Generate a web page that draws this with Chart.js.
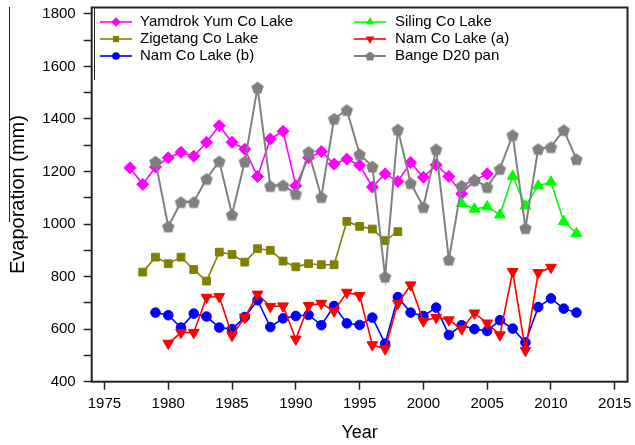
<!DOCTYPE html>
<html>
<head>
<meta charset="utf-8">
<script src="https://cdn.jsdelivr.net/npm/chart.js@4.4.1/dist/chart.umd.min.js"></script>
<style>
  html, body { margin: 0; padding: 0; background: #fff; }
  #wrap { width: 635px; height: 445px; position: relative; }
</style>
</head>
<body>
<div id="wrap"><canvas id="evapChart"></canvas></div>
<script>
// evaporation (mm) per year
const yamdrokYears = [1977, 1978, 1979, 1980, 1981, 1982, 1983, 1984, 1985, 1986, 1987, 1988, 1989, 1990, 1991,
  1992, 1993, 1994, 1995, 1996, 1997, 1998, 1999, 2000, 2001, 2002, 2003, 2004, 2005];
const yamdrokValues = [1214, 1151, 1217, 1252, 1273, 1258, 1311, 1374, 1311, 1285, 1181, 1324, 1353, 1146, 1252,
  1276, 1228, 1247, 1224, 1141, 1191, 1162, 1234, 1178, 1225, 1181, 1115, 1166, 1191];

const zigetangYears = [1978, 1979, 1980, 1981, 1982, 1983, 1984, 1985, 1986, 1987, 1988, 1989, 1990, 1991, 1992,
  1993, 1994, 1995, 1996, 1997, 1998];
const zigetangValues = [817, 874, 849, 874, 827, 783, 893, 884, 855, 906, 900, 859, 837, 849, 845,
  845, 1010, 991, 981, 937, 971];

const namCoBYears = [1979, 1980, 1981, 1982, 1983, 1984, 1985, 1986, 1987, 1988, 1989, 1990, 1991, 1992, 1993,
  1994, 1995, 1996, 1997, 1998, 1999, 2000, 2001, 2002, 2003, 2004, 2005, 2006, 2007, 2008, 2009, 2010, 2011, 2012];
const namCoBValues = [663, 653, 606, 659, 648, 606, 600, 646, 710, 608, 641, 650, 654, 615, 688,
  622, 616, 644, 545, 722, 663, 650, 682, 578, 615, 600, 593, 634, 602, 549, 684, 717, 678, 663];

const silingYears = [2003, 2004, 2005, 2006, 2007, 2008, 2009, 2010, 2011, 2012];
const silingValues = [1078, 1057, 1066, 1035, 1182, 1069, 1145, 1160, 1010, 964];

const namCoAYears = [1980, 1981, 1982, 1983, 1984, 1985, 1986, 1987, 1988, 1989, 1990, 1991, 1992, 1993, 1994,
  1995, 1996, 1997, 1998, 1999, 2000, 2001, 2002, 2003, 2004, 2005, 2006, 2007, 2008, 2009, 2010];
const namCoAValues = [546, 587, 587, 721, 724, 576, 645, 733, 686, 688, 562, 690, 698, 669, 740,
  728, 540, 525, 698, 768, 631, 644, 635, 601, 661, 623, 578, 819, 519, 815, 835];

const bangeYears = [1979, 1980, 1981, 1982, 1983, 1984, 1985, 1986, 1987, 1988, 1989, 1990, 1991, 1992, 1993,
  1994, 1995, 1996, 1997, 1998, 1999, 2000, 2001, 2002, 2003, 2004, 2005, 2006, 2007, 2008, 2009, 2010, 2011, 2012];
const bangeValues = [1238, 991, 1084, 1084, 1172, 1239, 1036, 1238, 1520, 1145, 1148, 1115, 1275, 1103, 1401,
  1434, 1266, 1219, 800, 1360, 1156, 1065, 1285, 865, 1146, 1168, 1141, 1210, 1339, 985, 1286, 1293, 1358, 1247];

const xTicks = [1975, 1980, 1985, 1990, 1995, 2000, 2005, 2010, 2015];
const yTicks = [400, 500, 600, 700, 800, 900, 1000, 1100, 1200, 1300, 1400, 1500, 1600, 1700, 1800];
const yLabelled = [400, 600, 800, 1000, 1200, 1400, 1600, 1800];

const FONT = '"Liberation Sans", Arial, Helvetica, sans-serif';

function pairs(years, vals) {
    return years.map((x, i) => ({ x: x, y: vals[i] }));
}

// Chart.js has no pentagon, so draw one on a small canvas
function pentagonMarker(r, color) {
    const size = Math.ceil(r * 2 + 2);
    const c = document.createElement('canvas');
    c.width = size;
    c.height = size;
    const g = c.getContext('2d');
    const cx = size / 2, cy = size / 2 + r * 0.1;
    g.beginPath();
    for (let i = 0; i < 5; i++) {
        const a = -Math.PI / 2 + i * 2 * Math.PI / 5;
        const px = cx + r * Math.cos(a), py = cy + r * Math.sin(a);
        if (i) g.lineTo(px, py); else g.moveTo(px, py);
    }
    g.closePath();
    g.fillStyle = color;
    g.fill();
    return c;
}

const bangePoint = pentagonMarker(6.5, '#808080');
const bangeLegendPoint = pentagonMarker(5, '#808080');

function line(label, years, vals, color, style, radius, extra) {
    return Object.assign({
        label: label,
        data: pairs(years, vals),
        borderColor: color,
        backgroundColor: color,
        borderWidth: 1.6,
        pointStyle: style,
        pointRadius: radius,
        pointHoverRadius: radius,
        pointBorderWidth: 1,
        pointBorderColor: color,
        pointBackgroundColor: color,
        tension: 0
    }, extra || {});
}

const datasets = [
    line('Yamdrok Yum Co Lake', yamdrokYears, yamdrokValues, '#FF00FF', 'rectRot', 6, { order: 6 }),
    line('Zigetang Co Lake', zigetangYears, zigetangValues, '#808000', 'rect', 5.5, { order: 5 }),
    line('Nam Co Lake (b)', namCoBYears, namCoBValues, '#0000FF', 'circle', 4.8, { order: 4 }),
    line('Siling Co Lake', silingYears, silingValues, '#00FF00', 'triangle', 6.2, { order: 3 }),
    line('Nam Co Lake (a)', namCoAYears, namCoAValues, '#FF0000', 'triangle', 6.2, { order: 2, pointRotation: 180 }),
    line('Bange D20 pan', bangeYears, bangeValues, '#808080', bangePoint, 6.5, { order: 1, borderWidth: 2 })
];

// legend drawn by hand: two columns, three rows, inside the plot
const legendSpots = [
    { x0: 100, x1: 132, mx: 116, tx: 140, y: 22 },
    { x0: 100, x1: 132, mx: 116, tx: 140, y: 39 },
    { x0: 100, x1: 132, mx: 116, tx: 140, y: 56 },
    { x0: 354, x1: 386, mx: 370, tx: 395, y: 22 },
    { x0: 354, x1: 386, mx: 370, tx: 395, y: 39 },
    { x0: 354, x1: 386, mx: 370, tx: 395, y: 56 }
];

const framePlugin = {
    id: 'frameAndLegend',
    afterDraw(chart) {
        const ctx = chart.ctx;
        const a = chart.chartArea;
        ctx.save();
        ctx.strokeStyle = '#222';
        ctx.lineWidth = 2;
        ctx.strokeRect(a.left, a.top, a.right - a.left, a.bottom - a.top);

        // stray rules that are in the original image
        ctx.lineWidth = 1;
        ctx.beginPath();
        ctx.moveTo(9.5, 7);
        ctx.lineTo(9.5, 222);
        ctx.moveTo(94.5, a.top);
        ctx.lineTo(94.5, 80);
        ctx.stroke();

        ctx.font = '15px ' + FONT;
        ctx.textBaseline = 'middle';
        ctx.textAlign = 'left';
        chart.data.datasets.forEach(function(ds, i) {
            const s = legendSpots[i];
            ctx.strokeStyle = ds.borderColor;
            ctx.lineWidth = ds.borderWidth;
            ctx.beginPath();
            ctx.moveTo(s.x0, s.y);
            ctx.lineTo(s.x1, s.y);
            ctx.stroke();
            ctx.fillStyle = ds.borderColor;
            const style = ds.pointStyle === bangePoint ? bangeLegendPoint : ds.pointStyle;
            if (Chart.helpers && Chart.helpers.drawPoint) {
                Chart.helpers.drawPoint(ctx, {
                    pointStyle: style,
                    radius: ds.pointRadius * 0.8,
                    rotation: ds.pointRotation || 0,
                    borderWidth: 0
                }, s.mx, s.y);
            }
            ctx.fillStyle = '#000';
            ctx.fillText(ds.label, s.tx, s.y);
        });
        ctx.restore();
    }
};

document.addEventListener('DOMContentLoaded', function() {
    const el = document.getElementById('evapChart');
    new Chart(el.getContext('2d'), {
        type: 'line',
        data: { datasets: datasets },
        plugins: [framePlugin],
        options: {
            responsive: true,
            maintainAspectRatio: false,
            animation: false,
            devicePixelRatio: 1,
            layout: { padding: { left: 0, top: 7, right: 7.3, bottom: 0 } },
            plugins: {
                legend: { display: false },
                tooltip: { enabled: false }
            },
            scales: {
                x: {
                    type: 'linear',
                    min: 1974,
                    max: 2016,
                    afterBuildTicks: function(scale) {
                        scale.ticks = xTicks.map(v => ({ value: v }));
                    },
                    afterFit: function(scale) {
                        scale.height = 63.3;
                        scale.paddingLeft = 0;
                        scale.paddingRight = 0;
                    },
                    border: { display: false },
                    grid: {
                        drawOnChartArea: false,
                        drawTicks: true,
                        tickLength: 8,
                        tickColor: '#222',
                        tickWidth: 1.5
                    },
                    ticks: {
                        autoSkip: false,
                        maxRotation: 0,
                        padding: 5,
                        color: '#000',
                        font: { family: FONT, size: 15 },
                        callback: v => String(v)
                    },
                    title: {
                        display: true,
                        text: 'Year',
                        color: '#000',
                        font: { family: FONT, size: 18 },
                        padding: { top: 0, bottom: 1 }
                    }
                },
                y: {
                    type: 'linear',
                    min: 400,
                    max: 1824,
                    afterBuildTicks: function(scale) {
                        scale.ticks = yTicks.map(v => ({ value: v }));
                    },
                    afterFit: function(scale) {
                        scale.width = 91.7;
                        scale.paddingTop = 0;
                        scale.paddingBottom = 0;
                    },
                    border: { display: false },
                    grid: {
                        drawOnChartArea: false,
                        drawTicks: true,
                        tickLength: 8,
                        tickColor: '#222',
                        tickWidth: 1.5
                    },
                    ticks: {
                        autoSkip: false,
                        padding: 8,
                        color: '#000',
                        font: { family: FONT, size: 15 },
                        callback: v => yLabelled.includes(v) ? String(v) : ''
                    },
                    title: {
                        display: true,
                        text: 'Evaporation (mm)',
                        color: '#000',
                        font: { family: FONT, size: 20 },
                        padding: { top: 6, bottom: 0 }
                    }
                }
            }
        }
    });
});
</script>
</body>
</html>
